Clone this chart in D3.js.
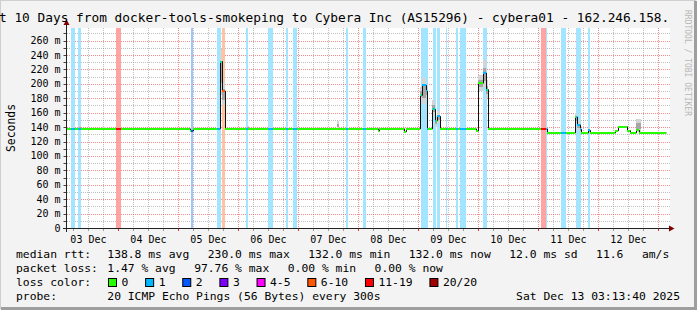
<!DOCTYPE html>
<html>
<head>
<meta charset="utf-8">
<script src="https://cdn.jsdelivr.net/npm/d3@7"></script>
<style>
  body { margin: 0; background: #f3f3f3; }
  svg { display: block; }
  text { font-family: "DejaVu Sans Mono", monospace; fill: #000; }
</style>
</head>
<body>
<svg width="697" height="310"></svg>
<script>
// graph window: last 10 days up to the probe time
const start = new Date(2025, 11, 3, 3, 13, 40);
const end = new Date(2025, 11, 13, 3, 13, 40);

// median rtt as steps: [hours since start, ms]
const median = [
  [0, 137.5], [49.2, 134.5], [50.4, 137.5],
  [61.2, 231], [62.0, 190], [63.2, 137.5],
  [124.4, 134.5], [125.2, 137.5], [135.0, 133.5], [135.8, 137.5],
  [141.2, 184], [142.0, 198], [143.6, 190], [144.0, 137.5],
  [146.0, 164.5], [147.2, 149], [148.2, 155], [149.5, 137.5],
  [163.6, 134.5], [164.4, 137.5], [164.8, 201], [166.4, 215], [167.6, 192], [168.4, 137.5],
  [192.0, 132],
  [203.2, 154], [204.2, 143], [205.2, 137], [205.6, 132],
  [208.4, 135.5], [209.6, 132],
  [219.2, 135], [220.4, 140.5], [224.0, 135], [225.2, 132],
  [227.6, 135.5], [229.2, 132], [239.8, 132]
];

// packet loss periods: [from h, to h, loss class index]
const loss = [
  [1.8, 3.4, 1], [4.4, 5.6, 1], [19.6, 21.6, 6], [49.6, 50.4, 2],
  [60.4, 61.8, 1], [62.0, 63.4, 5], [71.6, 72.4, 1], [80.4, 82.4, 1],
  [87.6, 88.6, 1], [90.4, 92.2, 1], [111.6, 112.4, 1], [118.4, 119.6, 1],
  [141.8, 144.4, 1], [146.4, 147.6, 1], [148.0, 149.2, 1], [151.6, 152.2, 1],
  [155.8, 156.4, 1], [157.6, 159.6, 1], [166.6, 168.2, 1],
  [189.6, 191.6, 6], [191.6, 192.2, 1], [197.8, 199.6, 1], [203.6, 205.6, 1], [208.4, 209.6, 1]
];

// ping spread ("smoke"): [from h, to h, low ms, high ms]
const smoke = [
  [4.8, 5.6, 137, 141], [14.0, 15.6, 137, 140],
  [61.2, 62.0, 185, 248], [62.0, 63.2, 170, 203], [72.0, 72.8, 137, 141],
  [108.0, 108.8, 137, 148],
  [141.2, 142.0, 178, 195], [142.0, 143.6, 172, 208], [143.6, 144.0, 180, 196],
  [146.0, 147.2, 155, 177], [147.2, 148.2, 140, 155], [148.2, 149.5, 145, 162],
  [164.8, 166.4, 190, 212], [166.4, 167.6, 195, 233], [167.6, 168.4, 180, 205],
  [203.2, 204.2, 145, 160], [204.2, 205.2, 136, 148], [205.2, 205.9, 132, 141],
  [208.4, 209.6, 132, 139], [227.6, 229.6, 133, 151]
];

const lossLabels = ["0", "1", "2", "3", "4-5", "6-10", "11-19", "20/20"];
const lossColors = ["#26ff00", "#00b8ff", "#0059ff", "#7e00ff", "#ff00ff", "#ff5500", "#ff0000", "#a10000"];

const rttStats = ["138.8 ms avg", "230.0 ms max", "132.0 ms min", "132.0 ms now", "12.0 ms sd", "11.6", "am/s"];
const lossStats = ["1.47 % avg", "97.76 % max", "0.00 % min", "0.00 % now"];

const svg = d3.select("svg");
const t = h => new Date(+start + h * 3600e3);
const x = d3.scaleTime().domain([start, end]).range([66.5, 666.5]);
const y = d3.scaleLinear().domain([0, 277.5]).range([228, 28]);
const X = h => Math.round(x(t(h)));
const px = v => Math.round(v) + 0.5;
const light = c => d3.interpolateRgb("#fff", c)(0.36);

// frame
svg.append("rect").attr("width", 697).attr("height", 310).attr("fill", "#f3f3f3");
svg.append("path").attr("d", "M0,309V0H696").attr("stroke", "#cfcfcf").attr("stroke-width", 2).attr("fill", "none");
svg.append("path").attr("d", "M1,308.5H695.5V1").attr("stroke", "#9e9e9e").attr("stroke-width", 3).attr("fill", "none");

// canvas
svg.append("rect").attr("x", 67).attr("y", 28).attr("width", 603).attr("height", 200).attr("fill", "#fff");

// grid (under the graph, as rrdtool draws it)
const grid = svg.append("g").attr("stroke-width", 1).attr("stroke-dasharray", "1,1");
const days = d3.timeDay.range(start, end);
const quarters = d3.timeHour.every(6).range(start, end).filter(d => d.getHours() !== 0);
grid.selectAll(".vmin").data(quarters).join("line")
  .attr("x1", d => px(x(d))).attr("x2", d => px(x(d)))
  .attr("y1", 28).attr("y2", 228).attr("stroke", "rgba(128,128,128,0.5)");
grid.selectAll(".vmaj").data(days).join("line")
  .attr("x1", d => px(x(d))).attr("x2", d => px(x(d)))
  .attr("y1", 28).attr("y2", 228).attr("stroke", "rgba(230,0,0,0.45)");
grid.selectAll(".hmin").data(d3.range(10, 277, 20)).join("line")
  .attr("x1", 67).attr("x2", 670)
  .attr("y1", d => px(y(d))).attr("y2", d => px(y(d)))
  .attr("stroke", "rgba(128,128,128,0.5)");
grid.selectAll(".hmaj").data(d3.range(20, 277, 20)).join("line")
  .attr("x1", 67).attr("x2", 670)
  .attr("y1", d => px(y(d))).attr("y2", d => px(y(d)))
  .attr("stroke", "rgba(230,0,0,0.45)");

// loss background bars
svg.append("g").attr("shape-rendering", "crispEdges").selectAll("rect").data(loss).join("rect")
  .attr("x", d => X(d[0])).attr("width", d => Math.max(1, X(d[1]) - X(d[0])))
  .attr("y", 28).attr("height", 200)
  .attr("fill", d => light(lossColors[d[2]]));

// smoke
const sm = svg.append("g").attr("shape-rendering", "crispEdges");
const frac = (d, f) => d[2] + (d[3] - d[2]) * f;
sm.selectAll(".outer").data(smoke).join("rect")
  .attr("x", d => X(d[0])).attr("width", d => X(d[1]) - X(d[0]))
  .attr("y", d => y(d[3])).attr("height", d => y(d[2]) - y(d[3]))
  .attr("fill", "#d4d4d4");
sm.selectAll(".inner").data(smoke).join("rect")
  .attr("x", d => X(d[0])).attr("width", d => X(d[1]) - X(d[0]))
  .attr("y", d => y(frac(d, 0.7))).attr("height", d => y(frac(d, 0.25)) - y(frac(d, 0.7)))
  .attr("fill", "#a6a6a6");

// median: thin dark steps, then a band coloured by loss class
svg.append("path").datum(median)
  .attr("d", d3.line().x(d => X(d[0]) + 0.5).y(d => y(d[1])).curve(d3.curveStepAfter))
  .attr("fill", "none").attr("stroke", "#111").attr("stroke-width", 1);

const cuts = Array.from(new Set(median.map(d => d[0]).concat(loss.flatMap(d => [d[0], d[1]]))))
  .filter(h => h <= median[median.length - 1][0]).sort((a, b) => a - b);
const valueAt = h => median[d3.bisectRight(median.map(d => d[0]), h) - 1][1];
const classAt = h => { const l = loss.find(d => h >= d[0] && h < d[1]); return l ? l[2] : 0; };
const pieces = d3.pairs(cuts).map(([a, b]) => ({a, b, v: valueAt(a), c: classAt((a + b) / 2)}));
svg.append("g").attr("shape-rendering", "crispEdges").selectAll("rect").data(pieces).join("rect")
  .attr("x", d => X(d.a)).attr("width", d => X(d.b) - X(d.a))
  .attr("y", d => Math.round(y(d.v) - 1)).attr("height", 2)
  .attr("fill", d => lossColors[d.c]);

// axes
const ax = svg.append("g");
ax.selectAll(".yt").data(d3.range(0, 277, 10)).join("line")
  .attr("x1", 63.5).attr("x2", 67).attr("y1", d => px(y(d))).attr("y2", d => px(y(d)))
  .attr("stroke", "#444");
ax.selectAll(".xt").data(quarters.concat(days)).join("line")
  .attr("x1", d => px(x(d))).attr("x2", d => px(x(d)))
  .attr("y1", 228).attr("y2", 231).attr("stroke", d => d.getHours() === 0 ? "#d33" : "#999");
ax.append("line").attr("x1", 66.5).attr("x2", 66.5).attr("y1", 232).attr("y2", 24).attr("stroke", "#222");
ax.append("line").attr("x1", 63).attr("x2", 670).attr("y1", 228.5).attr("y2", 228.5).attr("stroke", "#222");
ax.append("path").attr("d", "M63.5,25L66.5,19.5L69.5,25Z").attr("fill", "#7f0000");
ax.append("path").attr("d", "M669,225.5L674.5,228.5L669,231.5Z").attr("fill", "#7f0000");

ax.selectAll(".yl").data(d3.range(0, 261, 20)).join("text")
  .attr("x", 60.5).attr("y", d => y(d) + 3.5).attr("text-anchor", "end").attr("font-size", 10)
  .text(d => d === 0 ? "0" : `${d} m`);

const fmt = d3.timeFormat("%d %b");
const noons = d3.timeDay.range(d3.timeDay.floor(start), end).map(d => d3.timeHour.offset(d, 12))
  .filter(d => d > start && d < end);
ax.selectAll(".xl").data(noons).join("text")
  .attr("x", d => x(d)).attr("y", 242.5).attr("text-anchor", "middle").attr("font-size", 10)
  .text(fmt);

svg.append("text").attr("transform", "translate(15,128) rotate(-90)").attr("text-anchor", "middle")
  .attr("font-size", 11.4).text("Seconds");

// title and watermark
svg.append("text").attr("x", -1).attr("y", 22).attr("font-size", 12.8)
  .text("t 10 Days from docker-tools-smokeping to Cybera Inc (AS15296) - cybera01 - 162.246.158.");
svg.append("text").attr("transform", "translate(685,10) rotate(90)").attr("font-size", 8)
  .style("fill", "#b8b8b8").text("RRDTOOL / TOBI OETIKER");

// legend: items laid out left to right with a fixed gap, like rrdtool
const fs = 11.35, cw = fs * 0.602, gap = 18.5;
const lg = svg.append("g").attr("font-size", fs).attr("xml:space", "preserve");
const row = (label, items, yy) => {
  lg.append("text").attr("x", 16).attr("y", yy).text(label);
  let xx = 107.3;
  items.forEach(s => {
    lg.append("text").attr("x", xx).attr("y", yy).text(s);
    xx += s.length * cw + gap;
  });
};
row("median rtt:", rttStats, 258);
row("packet loss:", lossStats, 272);

lg.append("text").attr("x", 16).attr("y", 286).text("loss color:");
let bx = 108.5;
lossLabels.forEach((lab, i) => {
  lg.append("rect").attr("x", bx).attr("y", 278.5).attr("width", 8).attr("height", 8)
    .attr("fill", lossColors[i]).attr("stroke", "#000");
  lg.append("text").attr("x", bx + 13).attr("y", 286).text(lab);
  bx += 13 + lab.length * cw + 17.3;
});

lg.append("text").attr("x", 16).attr("y", 300).text("probe:");
lg.append("text").attr("x", 107.3).attr("y", 300).text("20 ICMP Echo Pings (56 Bytes) every 300s");
lg.append("text").attr("x", 680).attr("y", 300).attr("text-anchor", "end").text("Sat Dec 13 03:13:40 2025");
</script>
</body>
</html>
